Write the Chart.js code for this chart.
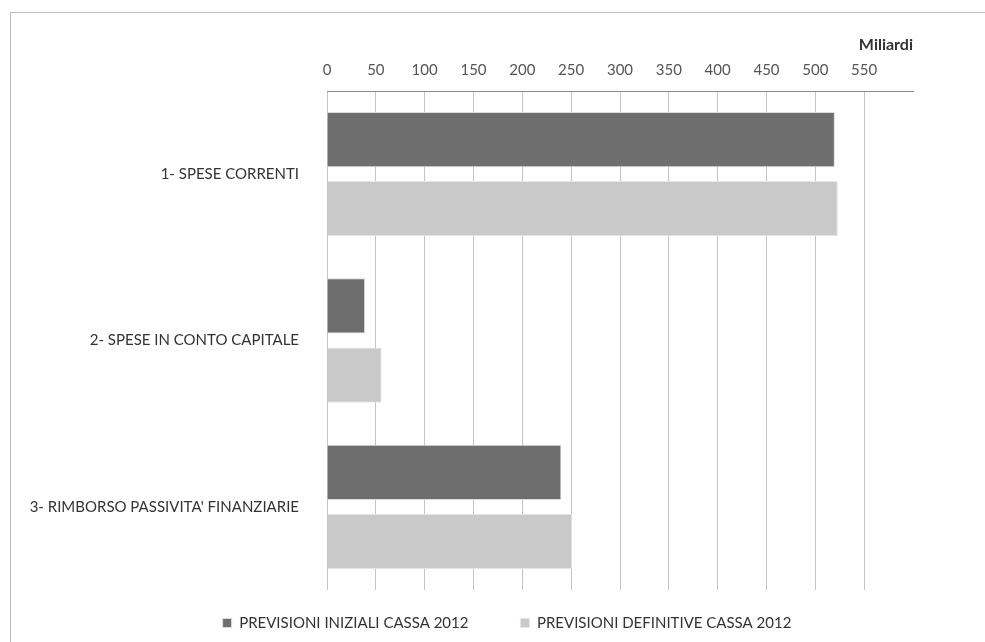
<!DOCTYPE html>
<html>
<head>
<meta charset="utf-8">
<script src="https://cdn.jsdelivr.net/npm/chart.js@4"></script>
<style>
  html, body { margin: 0; padding: 0; background: #fff; }
  #wrap { position: relative; width: 985px; height: 642px; }
  #frame { position: absolute; left: 10px; top: 12px; right: -5px; bottom: -5px;
           border-top: 1px solid #bdbdbd; border-left: 1px solid #bdbdbd; }
  canvas { position: absolute; left: 0; top: 0; }
</style>
</head>
<body>
<div id="wrap">
  <div id="frame"></div>
  <canvas id="grafico" width="985" height="642"></canvas>
</div>
<script>
// categorie e serie (miliardi)
const categorie = ["1- SPESE CORRENTI", "2- SPESE IN CONTO CAPITALE", "3- RIMBORSO PASSIVITA' FINANZIARIE"];
const iniziali = [520, 39, 240];
const definitive = [523, 56, 251];
const etichette = ["PREVISIONI INIZIALI CASSA 2012", "PREVISIONI DEFINITIVE CASSA 2012"];
const colori = ["#6e6e6e", "#c9c9c9"];

const fontBase = "Lato, 'Liberation Sans', sans-serif";

// sposta la legenda: centrata a x=507, testo a y=623
const spostaLegenda = {
  id: "spostaLegenda",
  afterLayout(chart) {
    const lg = chart.legend;
    const pad = lg.options.labels.padding;
    lg.left = 101;
    lg.right = 913;
    lg.width = lg.right - lg.left;
    lg.top = 623 - pad - 7.5;
    lg.bottom = 642;
    lg.height = lg.bottom - lg.top;
  }
};

new Chart("grafico", {
  type: "bar",
  data: {
    labels: categorie,
    datasets: [{
      label: etichette[0],
      backgroundColor: colori[0],
      borderColor: "#dcdcdc",
      borderWidth: 1,
      data: iniziali
    }, {
      label: etichette[1],
      backgroundColor: colori[1],
      borderColor: "#e6e6e6",
      borderWidth: 1,
      data: definitive
    }]
  },
  plugins: [spostaLegenda],
  options: {
    indexAxis: "y",
    responsive: false,
    animation: false,
    categoryPercentage: 0.83,
    barPercentage: 0.8,
    layout: { padding: { left: 20, right: 72, top: 35, bottom: 0 } },
    plugins: {
      legend: {
        position: "bottom",
        maxHeight: 52,
        labels: {
          boxWidth: 9,
          boxHeight: 9,
          padding: 52,
          color: "#333",
          font: { family: fontBase, size: 15 }
        }
      },
      tooltip: { enabled: false }
    },
    scales: {
      x: {
        position: "top",
        min: 0,
        max: 600,
        afterFit: (s) => { s.height = 56; },
        ticks: {
          stepSize: 50,
          padding: 12,
          color: "#555",
          font: { family: fontBase, size: 15 },
          callback: (v) => v === 600 ? "" : v
        },
        grid: {
          drawTicks: false,
          color: (c) => c.tick && c.tick.value === 600 ? "rgba(0,0,0,0)" : "#c4c4c4"
        },
        border: { color: "#8a8a8a" },
        title: {
          display: true,
          text: "Miliardi",
          align: "end",
          color: "#333",
          padding: { top: 0, bottom: 0 },
          font: { family: fontBase, size: 16, weight: "bold" }
        }
      },
      y: {
        afterFit: (s) => { s.width = 307; },
        ticks: {
          padding: 20,
          color: "#333",
          font: { family: fontBase, size: 15 }
        },
        grid: { display: false },
        border: { display: false }
      }
    }
  }
});
</script>
</body>
</html>
